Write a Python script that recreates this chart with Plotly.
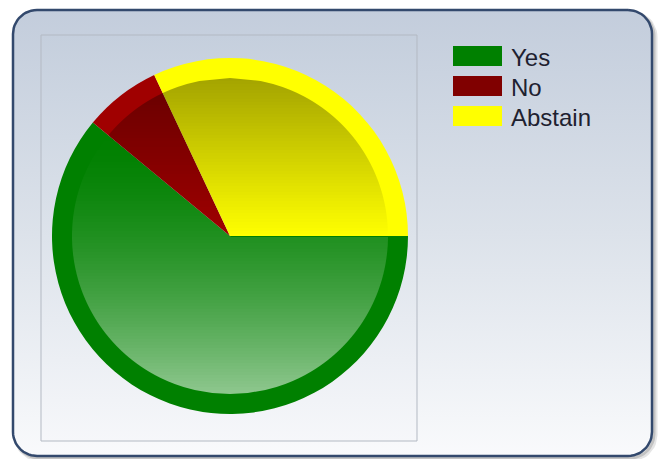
import numpy as np
import plotly.graph_objects as go

# ---- data ----
categories = ["Yes", "No", "Abstain"]
values = [61, 7, 32]
slice_colors = ["#008000", "#A00000", "#FFFF00"]
legend_colors = ["#008000", "#800000", "#FFFF00"]

W, H = 664, 459
fig = go.Figure()


def rounded_rect(x0, y0, x1, y1, r, n=14):
    pts = []
    corners = [(x1 - r, y0 + r, -90, 0), (x1 - r, y1 - r, 0, 90),
               (x0 + r, y1 - r, 90, 180), (x0 + r, y0 + r, 180, 270)]
    for ccx, ccy, a0, a1 in corners:
        for a in np.linspace(a0, a1, n):
            t = np.radians(a)
            pts.append((ccx + r * np.cos(t), ccy + r * np.sin(t)))
    pts.append(pts[0])
    xs, ys = zip(*pts)
    return list(xs), list(ys)


# shadow of the outer frame
for off, col, wd in [(3, "rgba(0,0,0,0.10)", 5), (2, "rgba(0,0,0,0.15)", 3)]:
    sx, sy = rounded_rect(13 + off, 10 + off, 652 + off, 456 + off, 24)
    fig.add_trace(go.Scatter(x=sx, y=sy, mode="lines", line=dict(color=col, width=wd),
                             hoverinfo="skip", showlegend=False))

# outer frame with gradient
fx, fy = rounded_rect(13, 10, 652, 456, 24)
fig.add_trace(go.Scatter(
    x=fx, y=fy, mode="lines", fill="toself",
    fillgradient=dict(type="vertical", start=10, stop=456,
                      colorscale=[[0, "#C3CDDC"], [0.5, "#DCE2EA"], [1, "#F9FAFC"]]),
    line=dict(color="#33496D", width=2.5), hoverinfo="skip", showlegend=False))

# plot area rectangle
px_ = [41, 417, 417, 41, 41]
py_ = [35, 35, 441, 441, 35]
fig.add_trace(go.Scatter(
    x=px_, y=py_, mode="lines", fill="toself",
    fillgradient=dict(type="vertical", start=35, stop=441,
                      colorscale=[[0, "#C5CFDD"], [0.5, "#DDE3EB"], [1, "#F6F7FA"]]),
    line=dict(color="#B3B9C3", width=1), hoverinfo="skip", showlegend=False))

# ---- pie ----
cx, cy, R = 230, 236, 178
fig.add_trace(go.Pie(
    labels=categories, values=values, sort=False, direction="clockwise", rotation=90,
    marker=dict(colors=slice_colors, line=dict(width=0)),
    textinfo="none", showlegend=False,
    domain=dict(x=[(cx - R) / W, (cx + R) / W], y=[1 - (cy + R) / H, 1 - (cy - R) / H]),
))

# shading of the inner disc: upper slices darker at the top, lower slice lighter at the bottom
total = float(sum(values))
theta = np.radians(360.0 * (1 - values[0] / total))  # math angle where the first slice ends
cot = np.cos(theta) / np.sin(theta)
shapes = []
R_in = 158
step = 3
g_top = cy - R_in * np.sin(theta)   # top of the inner part of the first slice
g_bot = cy + R_in


def hw(yy):
    return np.sqrt(max(R_in ** 2 - (yy - cy) ** 2, 0))


def white_alpha(yy):
    s = min(max((yy - g_top) / (g_bot - g_top), 0), 1)
    return 0.56 * s ** 1.6


def add(path, col):
    shapes.append(dict(type="path", path=path, xref="x", yref="y", fillcolor=col,
                       line=dict(width=0), layer="above"))


y = cy - R_in
while y < cy + R_in:
    y1 = y
    y2 = min(y + step, cy + R_in)
    ym = (y1 + y2) / 2
    wcol = f"rgba(255,255,255,{white_alpha(ym):.3f})"
    if ym < cy:
        t = (cy - ym) / R_in
        bcol = f"rgba(0,0,0,{0.36 * t:.3f})"
        r1 = cx + (cy - y1) * cot
        r2 = cx + (cy - y2) * cot
        xl1 = max(cx - hw(y1), r1)
        xl2 = max(cx - hw(y2), r2)
        add(f"M {xl1:.2f},{y1} L {cx + hw(y1):.2f},{y1} "
            f"L {cx + hw(y2):.2f},{y2} L {xl2:.2f},{y2} Z", bcol)
        if r2 > cx - hw(y2):
            add(f"M {cx - hw(y1):.2f},{y1} L {xl1:.2f},{y1} "
                f"L {xl2:.2f},{y2} L {cx - hw(y2):.2f},{y2} Z", wcol)
    else:
        add(f"M {cx - hw(y1):.2f},{y1} L {cx + hw(y1):.2f},{y1} "
            f"L {cx + hw(y2):.2f},{y2} L {cx - hw(y2):.2f},{y2} Z", wcol)
    y += step

# ---- legend ----
annotations = []
for i, (lab, col) in enumerate(zip(categories, legend_colors)):
    yc = 56 + 30 * i
    shapes.append(dict(type="rect", xref="x", yref="y", x0=453, x1=502, y0=yc - 10, y1=yc + 10,
                       fillcolor=col, line=dict(width=0), layer="above"))
    annotations.append(dict(x=509, y=yc + 1, xref="x", yref="y", text=lab, showarrow=False,
                            xanchor="left", yanchor="middle",
                            font=dict(family="Liberation Sans, Arial, sans-serif", size=24,
                                      color="#1E2130")))

fig.update_layout(
    width=W, height=H, margin=dict(l=0, r=0, t=0, b=0),
    paper_bgcolor="white", plot_bgcolor="rgba(0,0,0,0)",
    xaxis=dict(range=[0, W], visible=False, fixedrange=True, domain=[0, 1]),
    yaxis=dict(range=[H, 0], visible=False, fixedrange=True, domain=[0, 1]),
    shapes=shapes, annotations=annotations, showlegend=False,
)

fig.write_html("out.html", config={"displayModeBar": False},
               post_script="document.body.style.margin='0';document.body.style.overflow='hidden';")
